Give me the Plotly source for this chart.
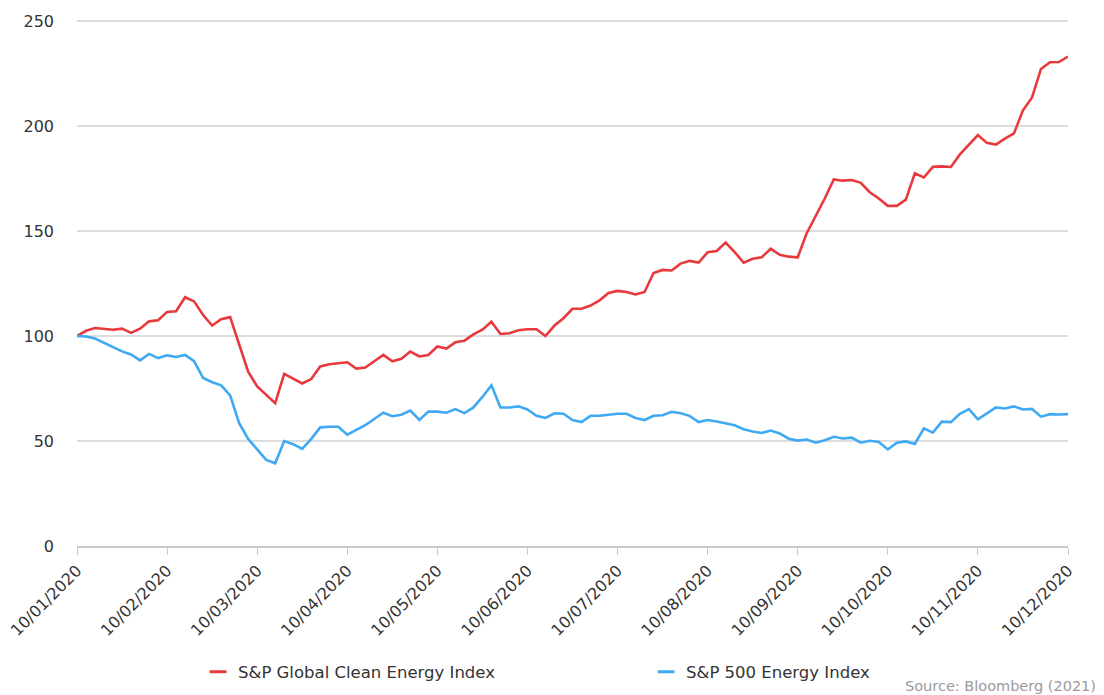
import plotly.graph_objects as go

# Month tick labels (dd/mm/yyyy), equally spaced, 10 samples per interval
tick_labels = ["10/01/2020", "10/02/2020", "10/03/2020", "10/04/2020", "10/05/2020",
               "10/06/2020", "10/07/2020", "10/08/2020", "10/09/2020", "10/10/2020",
               "10/11/2020", "10/12/2020"]
samples_per_month = 10

clean_energy = [
    100, 102.5, 103.8, 103.5, 103, 103.5, 101.5, 103.5, 107, 107.5,
    111.5, 111.8, 118.5, 116.5, 110, 105, 108, 109, 95.5, 83,
    76, 72, 68, 82, 79.5, 77.4, 79.5, 85.5, 86.6, 87,
    87.5, 84.5, 85, 88, 91, 88, 89.2, 92.6, 90.3, 91,
    95, 94, 97, 97.8, 100.8, 103, 106.8, 101, 101.3, 102.8,
    103.2, 103.2, 100, 105, 108.5, 113, 113, 114.5, 117, 120.5,
    121.5, 121, 119.8, 121, 130, 131.5, 131.2, 134.5, 135.8, 135,
    139.9, 140.5, 144.5, 140, 134.9, 136.8, 137.5, 141.6, 138.7, 137.8,
    137.5, 149, 157, 165.5, 174.6, 174, 174.3, 173, 168.5, 165.5,
    162, 162, 165, 177.5, 175.5, 180.6, 180.8, 180.5, 186.5, 191,
    195.7, 192, 191.2, 194, 196.5, 207.5, 213.5, 227.2, 230.4, 230.5,
    233.1,
]

sp500_energy = [
    100, 99.8, 98.8, 96.8, 94.5, 92.7, 91.2, 88.4, 91.5, 89.5,
    90.8, 90, 91, 88, 80, 78, 76.5, 71.7, 58.5, 51,
    46, 41, 39.4, 50, 48.5, 46.3, 51, 56.5, 56.8, 56.8,
    53, 55.3, 57.6, 60.5, 63.5, 61.8, 62.5, 64.5, 60, 64,
    64, 63.5, 65.2, 63.3, 66, 71, 76.5, 66, 66, 66.5,
    65, 62, 61, 63.2, 63, 60, 59, 62, 62, 62.5,
    63, 63, 61, 60, 62, 62.3, 63.9, 63.2, 62, 59,
    60, 59.3, 58.4, 57.5, 55.6, 54.5, 53.8, 55, 53.6, 51.1,
    50.2, 50.7, 49.2, 50.4, 52, 51.2, 51.6, 49.2, 50.1, 49.5,
    46, 49.2, 49.8, 48.6, 56, 54, 59.2, 59, 63, 65.2,
    60.3, 63.3, 66, 65.5, 66.5, 65, 65.3, 61.6, 62.8, 62.6,
    62.8,
]

series_names = ["S&P Global Clean Energy Index", "S&P 500 Energy Index"]
y_ticks = [0, 50, 100, 150, 200, 250]

RED = "#e8393d"
BLUE = "#40a9f3"
FONT = "DejaVu Sans"

x_idx = list(range(len(clean_energy)))
tick_vals = [i * samples_per_month for i in range(len(tick_labels))]

fig = go.Figure()
fig.add_trace(go.Scatter(x=x_idx, y=clean_energy, mode="lines",
                         line=dict(color=RED, width=2.6), showlegend=False,
                         name=series_names[0]))
fig.add_trace(go.Scatter(x=x_idx, y=sp500_energy, mode="lines",
                         line=dict(color=BLUE, width=2.6), showlegend=False,
                         name=series_names[1]))
# Legend entries with short dash symbols
for name, col in zip(series_names, [RED, BLUE]):
    fig.add_trace(go.Scatter(x=[None], y=[None], mode="markers", name=name,
                             marker=dict(symbol="line-ew", size=12,
                                         line=dict(width=3, color=col))))

fig.update_layout(
    width=1096, height=687,
    margin=dict(l=69, r=36, t=11, b=149),
    paper_bgcolor="white", plot_bgcolor="white",
    font=dict(family=FONT, size=15, color="#333333"),
    showlegend=True,
    legend=dict(orientation="h", xref="container", yref="container",
                x=0.1734, y=0.0335, xanchor="left", yanchor="middle",
                entrywidth=403, entrywidthmode="pixels",
                font=dict(family=FONT, size=16.5, color="#333333"),
                bgcolor="rgba(0,0,0,0)"),
    xaxis=dict(range=[0, len(clean_energy) - 1], tickmode="array",
               tickvals=tick_vals, ticktext=tick_labels, tickangle=-45,
               showgrid=False, zeroline=False, showline=True,
               linecolor="#c8c8c8", linewidth=2, ticks="outside",
               ticklen=7, tickcolor="#c8c8c8", tickwidth=1,
               automargin=False, ticklabeloverflow="allow",
               tickfont=dict(family=FONT, size=16, color="#333333")),
    yaxis=dict(range=[0, 251], tickmode="array", tickvals=y_ticks,
               showgrid=True, gridcolor="#dcdcdc", gridwidth=1.5,
               zeroline=False, showline=False, ticks="",
               ticklabelstandoff=22, automargin=False,
               tickfont=dict(family=FONT, size=16, color="#333333")),
    annotations=[dict(text="Source: Bloomberg (2021)", xref="paper", yref="paper",
                      x=1.030, y=-0.266, xanchor="right", yanchor="middle",
                      showarrow=False, font=dict(family=FONT, size=14.5, color="#9a9a9a"))],
)

fig.write_html("out.html")
